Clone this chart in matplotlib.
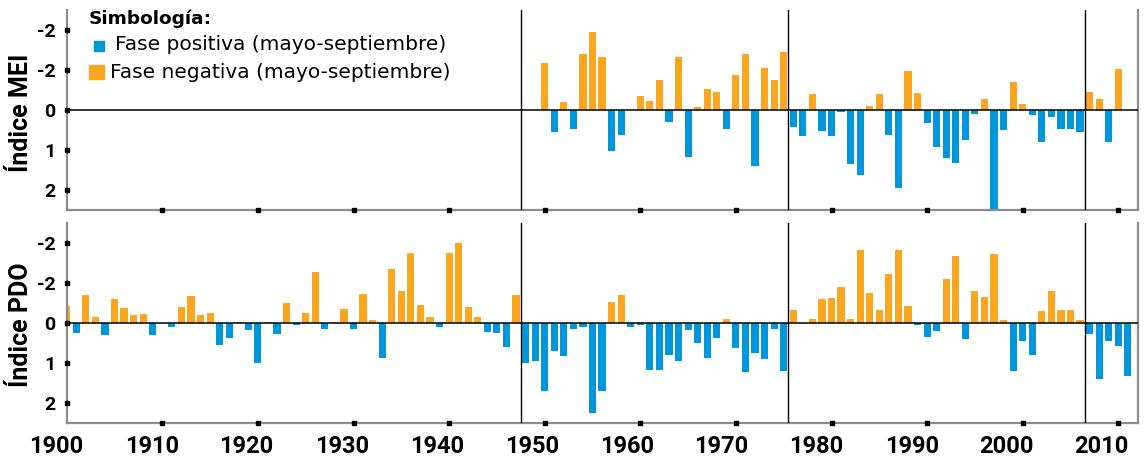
import numpy as np
import matplotlib
matplotlib.use("Agg")
from matplotlib import pyplot as plt
from matplotlib.patches import Rectangle

# values as drawn: positive = down (blue), negative = up (orange)
years_mei = list(range(1950, 2011))
mei = [-1.17, 0.55, -0.19, 0.48, -1.41, -1.96, -1.33, 1.02, 0.63, 0.0,
       -0.34, -0.22, -0.74, 0.30, -1.33, 1.18, -0.07, -0.52, -0.44, 0.47,
       -0.87, -1.40, 1.40, -1.04, -0.76, -1.45, 0.43, 0.66, -0.39, 0.53,
       0.66, 0.06, 1.35, 1.62, -0.09, -0.39, 0.63, 1.95, -0.97, -0.42,
       0.33, 0.93, 1.20, 1.33, 0.76, 0.11, -0.27, 2.55, 0.51, -0.71,
       -0.14, 0.13, 0.80, 0.18, 0.48, 0.48, 0.55, -0.45, -0.27, 0.81,
       -1.02]

years_pdo = list(range(1900, 2012))
pdo = [-0.43, 0.24, -0.70, -0.16, 0.29, -0.62, -0.39, -0.22, -0.23, 0.28,
       0.0, 0.09, -0.40, -0.68, -0.20, -0.26, 0.54, 0.37, -0.03, 0.16,
       0.99, -0.03, 0.27, -0.52, 0.05, -0.27, -1.29, 0.13, -0.03, -0.35,
       0.13, -0.74, -0.08, 0.87, -1.36, -0.80, -1.75, -0.45, -0.16, 0.08,
       -1.77, -2.00, -0.41, -0.17, 0.21, 0.23, 0.59, -0.72, 0.99, 0.94,
       1.70, 0.68, 0.82, 0.14, 0.08, 2.23, 1.68, -0.54, -0.71, 0.08,
       0.03, 1.17, 1.17, 0.79, 0.93, 0.16, 0.48, 0.87, 0.37, -0.12,
       0.61, 1.21, 0.75, 0.88, 0.13, 1.19, -0.33, 0.0, -0.12, -0.62,
       -0.63, -0.92, -0.11, -1.83, -0.75, -0.34, -1.24, -1.84, -0.44, 0.03,
       0.34, 0.19, -1.10, -1.69, 0.38, -0.80, -0.66, -1.73, -0.08, 1.19,
       0.43, 0.78, -0.31, -0.80, -0.34, -0.34, -0.08, 0.26, 1.39, 0.45,
       0.56, 1.32]

regime_breaks = [1947.5, 1975.5, 2006.5]
ytick_vals = [-2, -1, 0, 1, 2]
ytick_labels = ["-2", "-2", "0", "1", "2"]
xtick_years = list(range(1900, 2011, 10))

BLUE = "#0096DB"
ORANGE = "#FBA61E"
GREY = "#8c8c8c"

W_PX, H_PX = 1144, 463
fig = plt.figure(figsize=(W_PX / 100, H_PX / 100), dpi=100)


def px_box(left, top, right, bottom):
    return [left / W_PX, 1 - bottom / H_PX, (right - left) / W_PX, (bottom - top) / H_PX]


ax1 = fig.add_axes(px_box(66.7, 10, 1138, 210))
ax2 = fig.add_axes(px_box(66.7, 223.3, 1138, 423.3))

tick_font = dict(family="Roboto", weight="bold")


def draw_panel(ax, years, vals, label, label_y):
    vals = np.array(vals)
    colors = np.where(vals > 0, BLUE, ORANGE)
    ax.bar(years, vals, width=0.75, color=colors, zorder=2)
    ax.axhline(0, color="black", lw=1.1, zorder=3)
    for b in regime_breaks:
        ax.axvline(b, color="black", lw=1.0, zorder=3)
    for side in ["left", "bottom", "right"]:
        ax.spines[side].set_color(GREY)
        ax.spines[side].set_linewidth(1.6)
    ax.spines["top"].set_visible(False)
    ax.set_xticks([])
    ax.set_yticks(ytick_vals)
    ax.set_yticklabels(ytick_labels, fontsize=14, **tick_font)
    ax.tick_params(axis="both", length=0)
    ax.tick_params(axis="y", pad=8)
    # little square tick marks on the spines
    ax.plot([1900] * len(ytick_vals), ytick_vals, "s", ms=3, color="black",
            clip_on=False, zorder=5)
    ax.plot(xtick_years[1:], [2.5] * len(xtick_years[1:]), "s", ms=3,
            color="black", clip_on=False, zorder=5)
    ax.set_xlim(1900, 2012.06)
    ax.set_ylim(2.5, -2.5)
    fig.text(21 / W_PX, 1 - label_y / H_PX, label, rotation=90, ha="center",
             va="center", fontsize=18, **tick_font)


draw_panel(ax1, years_mei, mei, "Índice MEI", 113)
draw_panel(ax2, years_pdo, pdo, "Índice PDO", 325)

# year labels sit a bit left of the tick squares, as in the original
for y in xtick_years:
    ax2.text(y - 1.05 - 0.0063 * (y - 1900), -0.115, str(y), fontsize=17,
             ha="center", va="center", transform=ax2.get_xaxis_transform(),
             clip_on=False, **tick_font)

# legend ("Simbología")
fig.text(89 / W_PX, 1 - 18.5 / H_PX, "Simbología:", fontsize=13.3,
         fontweight="bold", ha="left", va="center", family="DejaVu Sans")
fig.patches.append(Rectangle((94 / W_PX, 1 - 51 / H_PX), 10 / W_PX, 10.5 / H_PX,
                             color=BLUE, transform=fig.transFigure))
fig.text(115 / W_PX, 1 - 45 / H_PX, "Fase positiva (mayo-septiembre)",
         fontsize=14.5, ha="left", va="center", family="DejaVu Sans")
fig.patches.append(Rectangle((88.5 / W_PX, 1 - 79 / H_PX), 15 / W_PX, 14 / H_PX,
                             color=ORANGE, transform=fig.transFigure))
fig.text(110 / W_PX, 1 - 72 / H_PX, "Fase negativa (mayo-septiembre)",
         fontsize=14.5, ha="left", va="center", family="DejaVu Sans")

fig.savefig("out.png", dpi=100)
